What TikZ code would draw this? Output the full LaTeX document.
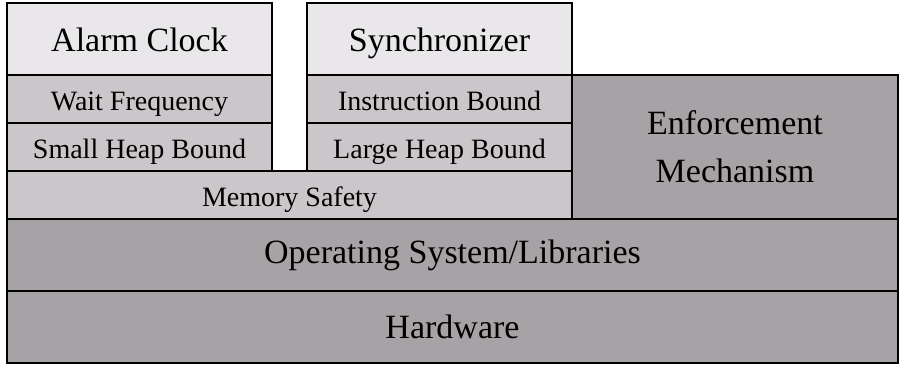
\documentclass[tikz,border=0pt]{standalone}
\usepackage{fontspec}
\setmainfont{Liberation Serif}
\usetikzlibrary{positioning}

\begin{document}
\begin{tikzpicture}[
        node distance=0pt,
        every node/.style={draw,line width=0.9pt,outer sep=0pt,inner sep=0pt}
    ]
    \definecolor{lgx}{RGB}{233,231,234}
    \definecolor{mgx}{RGB}{202,198,202}
    \definecolor{dgx}{RGB}{167,162,165}

    \useasboundingbox (0,0) rectangle (449.5pt,183pt);

    % base layers
    \begin{scope}[
        every node/.append style={fill=dgx,font=\fontsize{17}{24}\selectfont,
            minimum width=445.5pt,minimum height=36pt}
    ]
        \node (hw) [anchor=south west] at (3.5pt,1.5pt) {Hardware};
        \node (os) [above=of hw]                        {Operating System/Libraries};
    \end{scope}

    \node (mem) [above=of os.north west,anchor=south west,fill=mgx,
        minimum width=282.5pt,minimum height=24pt,font=\fontsize{14}{17}\selectfont,
        text height=11pt,text depth=0pt] {Memory Safety};
    \node (enf) [above=of os.north east,anchor=south east,fill=dgx,align=center,
        minimum width=163pt,minimum height=72pt,font=\fontsize{17}{24}\selectfont] {Enforcement\\Mechanism};

    % left stack
    \begin{scope}[
        every node/.append style={fill=mgx,font=\fontsize{14}{17}\selectfont,
            minimum width=132.5pt,minimum height=24pt,text height=11pt,text depth=0pt}
    ]
        \node (shb) [above=of mem.north west,anchor=south west] {Small Heap Bound};
        \node (wf)  [above=of shb]                              {Wait Frequency};
        \node (lhb) [above=of mem.north east,anchor=south east] {Large Heap Bound};
        \node (ib)  [above=of lhb]                              {Instruction Bound};
    \end{scope}

    % applications
    \begin{scope}[
        every node/.append style={fill=lgx,font=\fontsize{17}{24}\selectfont,
            minimum width=132.5pt,minimum height=36pt,text height=12pt,text depth=0pt}
    ]
        \node (ac) [above=of wf] {Alarm Clock};
        \node (sy) [above=of ib] {Synchronizer};
    \end{scope}
\end{tikzpicture}
\end{document}
